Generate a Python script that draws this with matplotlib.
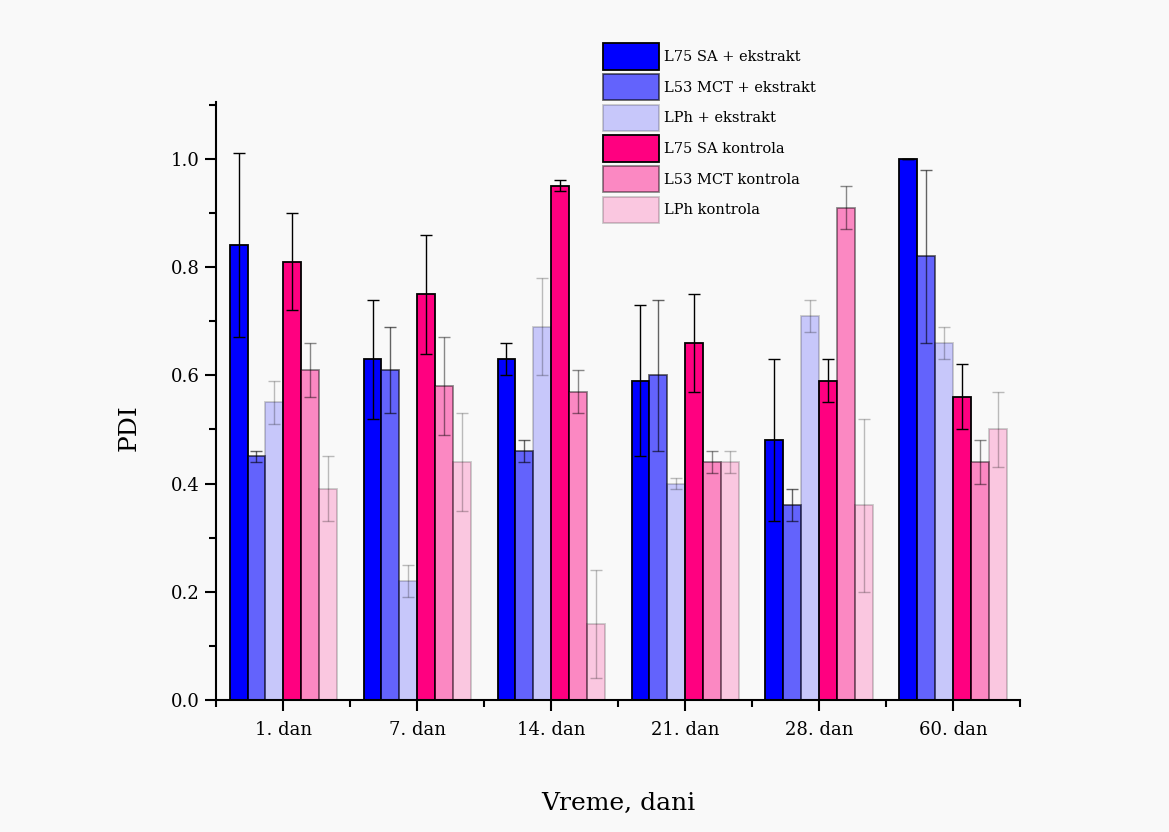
import numpy as np
import matplotlib
matplotlib.use("Agg")
import matplotlib.pyplot as plt
from matplotlib.ticker import MultipleLocator, FixedLocator

plt.rcParams["font.family"] = ["DejaVu Serif"]

days = ["1. dan", "7. dan", "14. dan", "21. dan", "28. dan", "60. dan"]
series = ["L75 SA + ekstrakt", "L53 MCT + ekstrakt", "LPh + ekstrakt",
          "L75 SA kontrola", "L53 MCT kontrola", "LPh kontrola"]

l75_ext = [0.84, 0.63, 0.63, 0.59, 0.48, 1.00]
l53_ext = [0.45, 0.61, 0.46, 0.60, 0.36, 0.82]
lph_ext = [0.55, 0.22, 0.69, 0.40, 0.71, 0.66]
l75_kon = [0.81, 0.75, 0.95, 0.66, 0.59, 0.56]
l53_kon = [0.61, 0.58, 0.57, 0.44, 0.91, 0.44]
lph_kon = [0.39, 0.44, 0.14, 0.44, 0.36, 0.50]

l75_ext_err = [0.17, 0.11, 0.03, 0.14, 0.15, 0.0]
l53_ext_err = [0.01, 0.08, 0.02, 0.14, 0.03, 0.16]
lph_ext_err = [0.04, 0.03, 0.09, 0.01, 0.03, 0.03]
l75_kon_err = [0.09, 0.11, 0.01, 0.09, 0.04, 0.06]
l53_kon_err = [0.05, 0.09, 0.04, 0.02, 0.04, 0.04]
lph_kon_err = [0.06, 0.09, 0.10, 0.02, 0.16, 0.07]

values = [l75_ext, l53_ext, lph_ext, l75_kon, l53_kon, lph_kon]
errors = [l75_ext_err, l53_ext_err, lph_ext_err, l75_kon_err, l53_kon_err, lph_kon_err]

BG = "#f9f9f9"
base = ["#0000ff", "#0000ff", "#0000ff", "#ff0080", "#ff0080", "#ff0080"]
alphas = [1.0, 0.6, 0.2, 1.0, 0.45, 0.2]

fig = plt.figure(figsize=(11.69, 8.32), dpi=100, facecolor=BG)
ax = fig.add_axes([0.185, 0.1587, 0.6875, 0.7187], facecolor=BG)

x = np.arange(len(days))
w = 0.8 / 6
for i, (vals, errs) in enumerate(zip(values, errors)):
    pos = x - 0.4 + w * (i + 0.5)
    ax.bar(pos, vals, width=w, color=base[i], alpha=alphas[i],
           edgecolor="black", linewidth=1.3, label=series[i], zorder=2)
    ax.errorbar(pos, vals, yerr=errs, fmt="none", ecolor="black",
                alpha=max(alphas[i], 0.25), elinewidth=1.0, capsize=4,
                capthick=1.0, zorder=3)

ax.set_xlim(-0.5, 5.5)
ax.set_ylim(0, 1.105)
ax.set_xticks(x)
ax.set_xticklabels(days, fontsize=13)
ax.xaxis.set_minor_locator(FixedLocator(np.arange(-0.5, 5.6, 1.0)))
ax.yaxis.set_major_locator(MultipleLocator(0.2))
ax.yaxis.set_minor_locator(MultipleLocator(0.1))
ax.set_yticklabels([f"{v:.1f}" for v in ax.get_yticks()], fontsize=13)
ax.tick_params(which="major", direction="out", length=8, width=1.5)
ax.tick_params(which="minor", direction="out", length=5, width=1.5)
ax.tick_params(axis="x", which="major", pad=7)
ax.tick_params(axis="y", which="major", pad=4)
for s in ["top", "right"]:
    ax.spines[s].set_visible(False)
for s in ["left", "bottom"]:
    ax.spines[s].set_linewidth(1.5)

ax.set_ylabel("PDI", fontsize=18)
ax.yaxis.set_label_coords(-0.0945, 0.455)
ax.set_xlabel("Vreme, dani", fontsize=18, labelpad=38)

fig.legend(loc="upper left", bbox_to_anchor=(0.511, 0.955), frameon=False,
           fontsize=10.5, handlelength=3.8, handleheight=2.4,
           labelspacing=0.3, handletextpad=0.35, borderaxespad=0)

fig.savefig("out.png", dpi=100, facecolor=BG)
